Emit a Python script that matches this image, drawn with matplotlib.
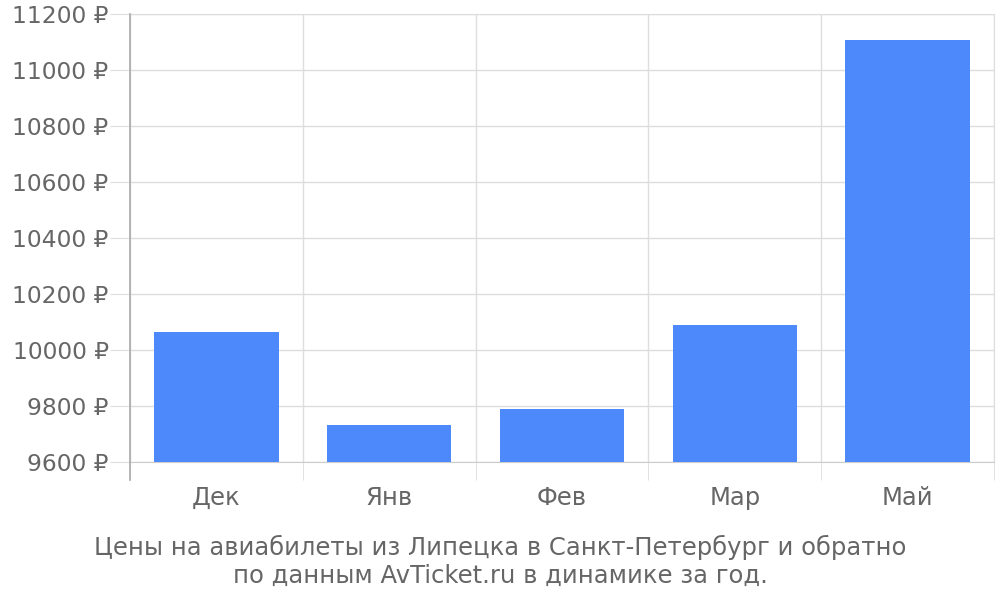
import matplotlib
matplotlib.use("Agg")
import matplotlib.pyplot as plt
from matplotlib.ticker import FuncFormatter, MultipleLocator, FixedLocator

categories = ["Дек", "Янв", "Фев", "Мар", "Май"]
prices = [10065, 9733, 9789, 10090, 11108]
caption_lines = ["Цены на авиабилеты из Липецка в Санкт-Петербург и обратно",
                 "по данным AvTicket.ru в динамике за год."]

plt.rcParams['font.family'] = ['DejaVu Sans']
fig = plt.figure(figsize=(10, 6), dpi=100)
ax = fig.add_axes([0.13, 0.23, 0.864, 0.7467])

x = list(range(len(categories)))
ax.bar(x, [p - 9600 for p in prices], bottom=9600, width=0.72, color='#4d89fb', zorder=3)

ax.set_xlim(-0.5, len(categories) - 0.5)
ax.set_ylim(9600, 11200)
ax.yaxis.set_major_locator(MultipleLocator(200))
ax.yaxis.set_major_formatter(FuncFormatter(lambda v, p: f"{int(v)} ₽"))
ax.set_xticks(x)
ax.set_xticklabels(categories)
ax.xaxis.set_minor_locator(FixedLocator([i - 0.5 for i in range(len(categories) + 1)]))

ax.grid(axis='y', which='major', color='#dddddd', linewidth=1, zorder=0)
ax.grid(axis='x', which='minor', color='#dddddd', linewidth=1, zorder=0)
ax.grid(axis='x', which='major', visible=False)

ax.tick_params(axis='y', which='major', length=14.4, color='#dddddd', labelsize=16.8,
               labelcolor='#666666', pad=1)
ax.tick_params(axis='x', which='major', length=0, labelsize=17.5, labelcolor='#666666', pad=17)
ax.tick_params(axis='x', which='minor', length=13, color='#dddddd')

for s in ['top', 'right']:
    ax.spines[s].set_color('#dddddd')
ax.spines['bottom'].set_color('#cccccc')
ax.spines['left'].set_visible(False)
ax.plot([0, 0], [-18 / 448, 1], transform=ax.transAxes, color='#aaaaaa',
        linewidth=1.2, clip_on=False, zorder=5)

fig.text(0.5, 1 - 547 / 600, caption_lines[0], ha='center', va='center',
         fontsize=17.5, color='#666666')
fig.text(0.5, 1 - 576 / 600, caption_lines[1], ha='center', va='center',
         fontsize=17.5, color='#666666')

fig.savefig("out.png", dpi=100)
